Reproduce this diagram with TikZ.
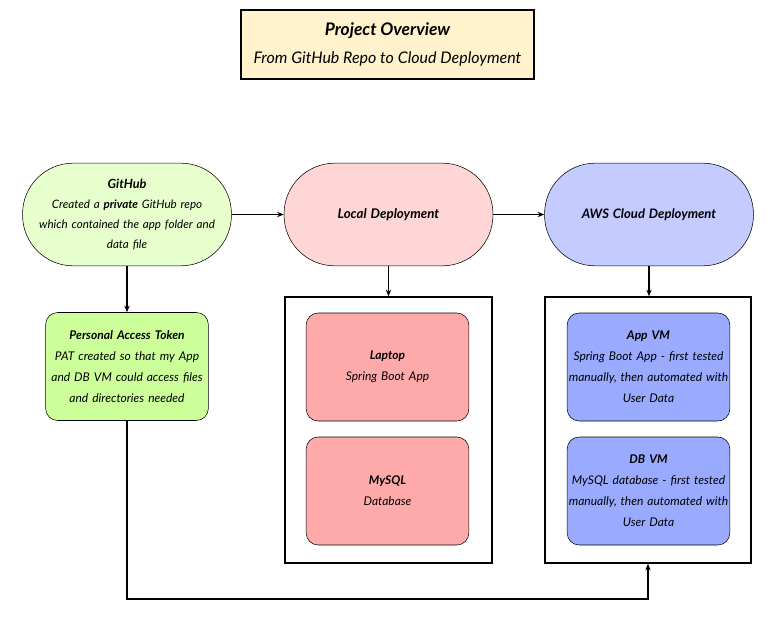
\documentclass[tikz,border=0pt]{standalone}
\usepackage{fontspec}
\setmainfont{Lato}
\usetikzlibrary{arrows.meta}

\definecolor{titlefill}{HTML}{FFF2CC}
\definecolor{gitfill}{HTML}{E6FFCC}
\definecolor{patfill}{HTML}{CCFF99}
\definecolor{localfill}{HTML}{FFD6D6}
\definecolor{laptopfill}{HTML}{FFAAAA}
\definecolor{awsfill}{HTML}{C4CBFF}
\definecolor{vmfill}{HTML}{99AAFF}

\begin{document}
\begin{tikzpicture}[x=0.75pt,y=-0.75pt,
    stadium/.style={draw,rounded corners=38pt,minimum width=156pt,minimum height=77pt,
      align=center,text width=150pt,font=\fontsize{8.7}{15}\selectfont\itshape},
    card/.style={draw,rounded corners=9pt,minimum width=122pt,minimum height=81pt,
      align=center,text width=121pt,inner xsep=0pt,font=\fontsize{9}{15.7}\selectfont\itshape},
    frame/.style={draw,line width=1.1pt},
    link/.style={-{Stealth[length=5pt,width=4pt]},line width=0.8pt}]
  \useasboundingbox (0,0) rectangle (777,635);

  % title
  \node[draw,line width=1.4pt,fill=titlefill,minimum width=220pt,minimum height=52pt,
    align=center] (title) at (387.5,44.5)
    {{\fontsize{13}{15}\selectfont\bfseries\itshape Project Overview}\\[9pt]
     {\fontsize{12}{14}\selectfont\itshape From GitHub Repo to Cloud Deployment}};

  % top row
  \node[stadium,fill=gitfill] (github) at (127,214.5)
    {{\bfseries\fontsize{9.5}{15}\selectfont GitHub}\\
     Created a \textbf{private} GitHub repo\\ which contained the app folder and\\ data file};
  \node[stadium,fill=localfill] (local) at (388.5,214.5)
    {\bfseries\fontsize{10}{15}\selectfont Local Deployment};
  \node[stadium,fill=awsfill] (aws) at (649,214.5)
    {\bfseries\fontsize{9.8}{15}\selectfont AWS Cloud Deployment};

  % containers
  \node[frame,minimum width=155pt,minimum height=199.5pt] (localbox) at (388.5,430) {};
  \node[frame,minimum width=154.5pt,minimum height=199.5pt] (awsbox) at (648,430) {};

  % cards
  \node[card,fill=patfill] (pat) at (127,366.5)
    {\textbf{Personal Access Token}\\ PAT created so that my App\\ and DB VM could access files\\ and directories needed};
  \node[card,fill=laptopfill] (laptop) at (387.5,367)
    {\textbf{Laptop}\\ Spring Boot App};
  \node[card,fill=laptopfill] (mysql) at (387.5,491)
    {\textbf{MySQL}\\ Database};
  \node[card,fill=vmfill] (appvm) at (648.5,367)
    {\textbf{App VM}\\ Spring Boot App - first tested\\ manually, then automated with\\ User Data};
  \node[card,fill=vmfill] (dbvm) at (648.5,491)
    {\textbf{DB VM}\\ MySQL database - first tested\\ manually, then automated with\\ User Data};

  % connectors
  \draw[link] (github) -- (local);
  \draw[link] (local) -- (aws);
  \draw[link] (github) -- (pat);
  \draw[link] (local) -- (localbox);
  \draw[link] (aws) -- (aws |- awsbox.north);
  \coordinate (bend) at (127,599);
  \draw[link] (pat) -- (bend) -| (awsbox.south);
\end{tikzpicture}
\end{document}
